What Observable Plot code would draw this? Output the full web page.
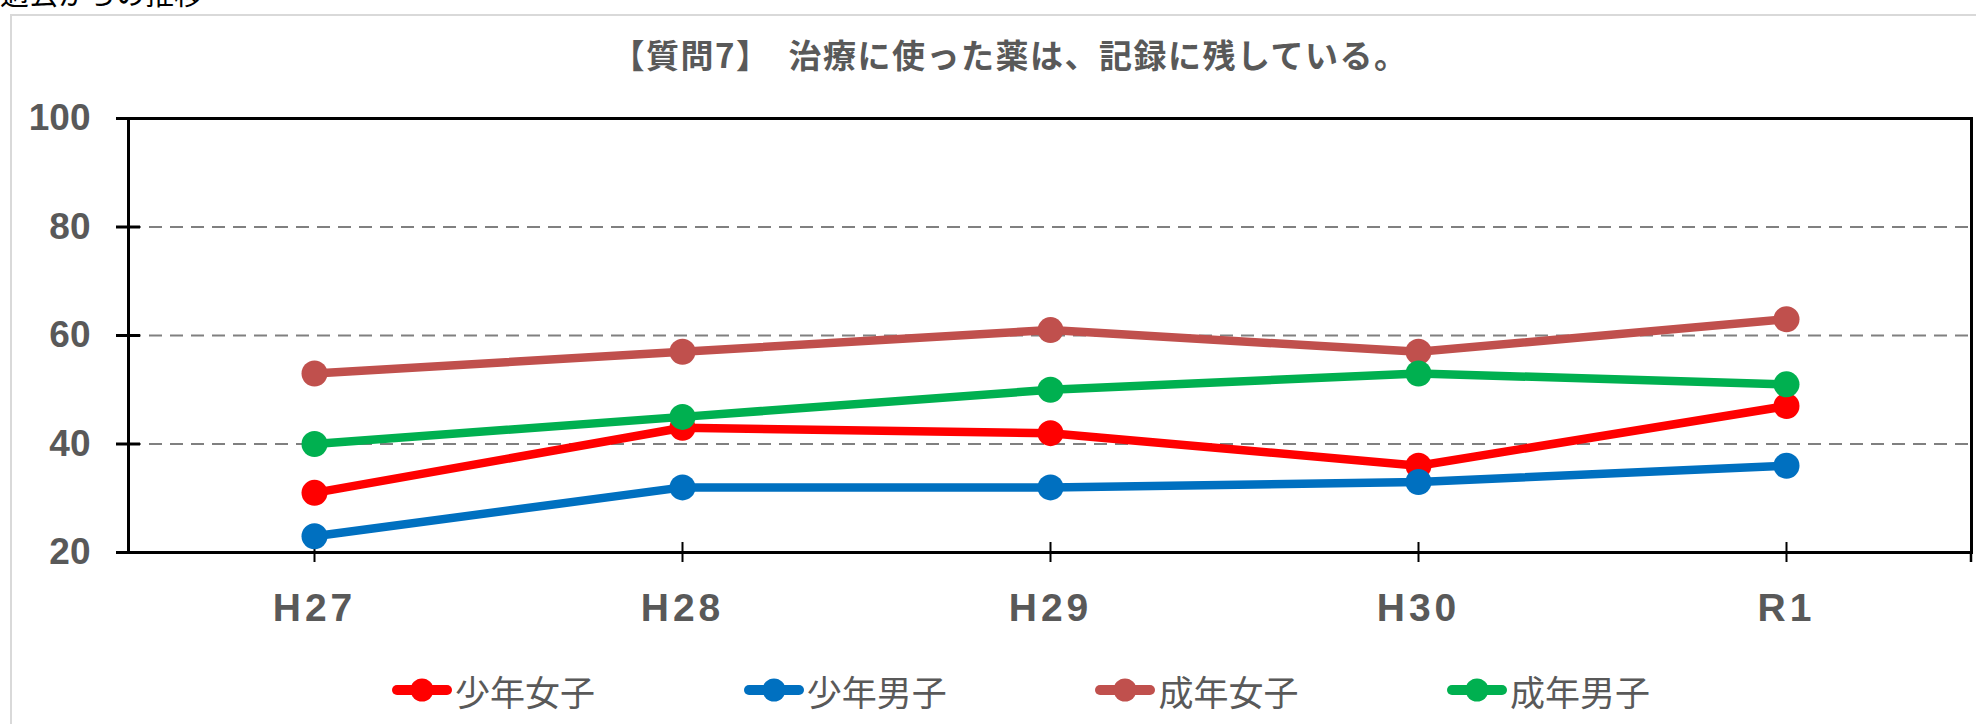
<!DOCTYPE html>
<html>
<head>
<meta charset="utf-8">
<script src="https://cdn.jsdelivr.net/npm/d3@7"></script>
<script src="https://cdn.jsdelivr.net/npm/@observablehq/plot@0.6"></script>
<style>
  body { margin: 0; background: #fff; }
  #wrap { position: relative; width: 1976px; height: 724px; overflow: hidden; background: #fff;
          font-family: "Noto Sans CJK JP", "Noto Sans", sans-serif; }
  #border { position: absolute; left: 10px; top: 14px; width: 2000px; height: 800px;
            border: 2px solid #d9d9d9; box-sizing: border-box; }
  #cut { position: absolute; left: 0; top: -22px; font-size: 29px; line-height: 1; color: #000; white-space: nowrap; }
  #title { position: absolute; left: 0; width: 2020px; top: 38px; text-align: center;
           font-size: 33px; line-height: 1; font-weight: bold; color: #595959; letter-spacing: 1.5px; white-space: nowrap; }
  #chart { position: absolute; left: 0; top: 0; }
  #legend { position: absolute; left: 392px; top: 665px; height: 50px; display: flex; align-items: center; }
  .item { width: 351.7px; flex: none; display: flex; align-items: center; }
  .item span { margin-left: 3px; font-size: 35px; line-height: 1; color: #595959; white-space: nowrap; }
  .ylab text { font-weight: bold; fill: #595959; }
  .xlab text { font-weight: bold; fill: #595959; letter-spacing: 4px; }
</style>
</head>
<body>
<div id="wrap">
  <div id="border"></div>
  <div id="cut">過去からの推移</div>
  <div id="title"></div>
  <div id="chart"></div>
  <div id="legend"></div>
</div>
<script>
// ---- data ----
const years = ["H27", "H28", "H29", "H30", "R1"];
const series = ["少年女子", "少年男子", "成年女子", "成年男子"];
const colors = ["#FF0000", "#0070C0", "#C0504D", "#00B050"];
const youthGirls = [31, 43, 42, 36, 47];
const youthBoys = [23, 32, 32, 33, 36];
const adultWomen = [53, 57, 61, 57, 63];
const adultMen = [40, 45, 50, 53, 51];
const yTicks = [20, 40, 60, 80, 100];
const gridValues = [40, 60, 80];
const titleText = "【質問7】　治療に使った薬は、記録に残している。";

const seriesValues = [youthGirls, youthBoys, adultWomen, adultMen];
const data = [];
series.forEach((s, i) => years.forEach((y, j) => data.push({series: s, year: y, value: seriesValues[i][j]})));

document.getElementById("title").textContent = titleText;

// ---- chart ----
const W = 1976, H = 650;
const mL = 128, mR = 5, mT = 118, mB = 98;
const plotW = W - mL - mR, plotH = H - mT - mB;

const chart = Plot.plot({
  width: W, height: H,
  marginLeft: mL, marginRight: mR, marginTop: mT, marginBottom: mB,
  style: { background: "transparent", overflow: "visible", fontFamily: "'Liberation Sans', Arial, sans-serif" },
  x: { type: "point", domain: years, padding: 0.5 },
  y: { domain: [20, 100] },
  color: { domain: series, range: colors },
  marks: [
    Plot.ruleY(gridValues, { stroke: "#808080", strokeWidth: 2, strokeDasharray: "13,8" }),
    Plot.frame({ stroke: "#000", strokeWidth: 3 }),
    Plot.tickY(yTicks, { y: d => d, stroke: "#000", strokeWidth: 3, insetLeft: -12, insetRight: plotW - 12 }),
    Plot.tickX(years, { x: d => d, stroke: "#000", strokeWidth: 2, insetTop: plotH - 10, insetBottom: -10 }),
    Plot.axisY({ ticks: yTicks, tickSize: 0, tickPadding: 38, fontSize: 37, label: null, className: "ylab" }),
    Plot.axisX({ tickSize: 0, tickPadding: 41, fontSize: 39, label: null, className: "xlab" }),
    Plot.line(data, { x: "year", y: "value", z: "series", stroke: "series", strokeWidth: 8.5,
                      strokeLinejoin: "round", strokeLinecap: "round" }),
    Plot.dot(data, { x: "year", y: "value", fill: "series", r: 13, stroke: null })
  ]
});
document.getElementById("chart").appendChild(chart);

// tick-class fallback styling
d3.select(chart).selectAll('g[aria-label="y-axis tick label"] text').attr("font-weight", "bold").attr("fill", "#595959");
d3.select(chart).selectAll('g[aria-label="x-axis tick label"] text').attr("font-weight", "bold").attr("fill", "#595959").style("letter-spacing", "4px");

// right frame edge extends below the axis like the category ticks
const xr = chart.scale("x").range, yr = chart.scale("y").range;
d3.select(chart).append("line")
  .attr("x1", xr[1]).attr("x2", xr[1])
  .attr("y1", yr[0]).attr("y2", yr[0] + 10)
  .attr("stroke", "#000").attr("stroke-width", 2.5);

// ---- legend ----
const legend = d3.select("#legend");
series.forEach((s, i) => {
  const it = legend.append("div").attr("class", "item");
  const sv = it.append("svg").attr("width", 60).attr("height", 30);
  sv.append("line").attr("x1", 5).attr("x2", 55).attr("y1", 15).attr("y2", 15)
    .attr("stroke", colors[i]).attr("stroke-width", 10).attr("stroke-linecap", "round");
  sv.append("circle").attr("cx", 30).attr("cy", 15).attr("r", 11.5).attr("fill", colors[i]);
  it.append("span").text(s);
});
</script>
</body>
</html>
